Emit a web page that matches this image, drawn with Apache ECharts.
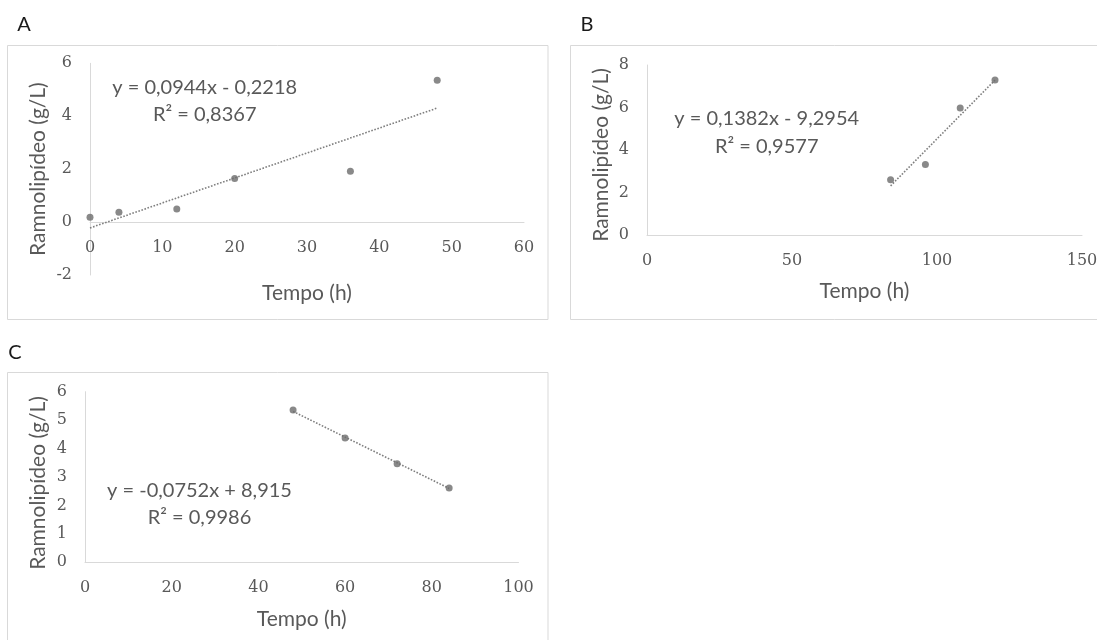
<!DOCTYPE html>
<html>
<head>
<meta charset="utf-8">
<script src="https://cdn.jsdelivr.net/npm/echarts@6/dist/echarts.min.js"></script>
<style>
  html, body { margin: 0; padding: 0; background: #ffffff; }
  #chart { width: 1097px; height: 640px; }
</style>
</head>
<body>
<div id="chart"></div>
<script>
// Panel A: production during 0–48 h
const hoursA = [0, 4, 12, 20, 36, 48];
const rhamnoA = [0.18, 0.37, 0.49, 1.65, 1.92, 5.36];
// Panel B: 84–120 h
const hoursB = [84, 96, 108, 120];
const rhamnoB = [2.6, 3.32, 5.98, 7.3];
// Panel C: 48–84 h
const hoursC = [48, 60, 72, 84];
const rhamnoC = [5.36, 4.37, 3.47, 2.61];

// Linear fits for A, B, C
const fitSlopes = [0.0944, 0.1382, -0.0752];
const fitIntercepts = [-0.2218, -9.2954, 8.915];
const fitR2 = [0.8367, 0.9577, 0.9986];

// Axis ranges: [min, max, interval]
const xTicksA = [0, 60, 10];  const yTicksA = [-2, 6, 2];
const xTicksB = [0, 150, 50]; const yTicksB = [0, 8, 2];
const xTicksC = [0, 100, 20]; const yTicksC = [0, 6, 1];

const panelLetters = ['A', 'B', 'C'];
const xTitle = 'Tempo (h)';
const yTitle = 'Ramnolipídeo (g/L)';

const TEXT = '#595959';
const AXIS = '#d9d9d9';
const DOT = '#6b6b6b';
const SANS = 'Lato, "Open Sans", sans-serif';
const SERIF = '"DejaVu Serif", "Liberation Serif", serif';

const panels = [
  { x: hoursA, y: rhamnoA, xt: xTicksA, yt: yTicksA,
    grid: { left: 90, top: 63.3, width: 434, height: 211.7 },
    xGap: 61, yGap: 41, yShift: 0, eq: [204.7, 87.3, 115], letter: [24, 25],
    box: [7.5, 45.5, 540.5, 274] },
  { x: hoursB, y: rhamnoB, xt: xTicksB, yt: yTicksB,
    grid: { left: 647, top: 65, width: 435, height: 170 },
    xGap: 46, yGap: 35, yShift: 10, eq: [766.7, 119, 146.7], letter: [587, 25],
    box: [570.5, 45.5, 540, 274] },
  { x: hoursC, y: rhamnoC, xt: xTicksC, yt: yTicksC,
    grid: { left: 85, top: 391.7, width: 433.5, height: 170.6 },
    xGap: 46, yGap: 36, yShift: 12, eq: [199.5, 490.7, 517.3], letter: [15, 353],
    box: [7.5, 372.5, 540.5, 300] }
];

function fmt(v) {
  return String(Math.abs(v)).replace('.', ',');
}
function equationText(i) {
  const s = fitSlopes[i], b = fitIntercepts[i];
  return 'y = ' + (s < 0 ? '-' : '') + fmt(s) + 'x ' + (b < 0 ? '- ' : '+ ') + fmt(b);
}

const grids = [], xAxes = [], yAxes = [], series = [], graphics = [];

panels.forEach(function (p, i) {
  grids.push(Object.assign({ outerBoundsMode: 'none', containLabel: false }, p.grid));

  // The horizontal axis (line, labels and title) sits where y = 0
  const zeroLift = (0 - p.yt[0]) / (p.yt[1] - p.yt[0]) * p.grid.height;

  xAxes.push({
    type: 'value', gridIndex: i, min: p.xt[0], max: p.xt[1], interval: p.xt[2],
    position: 'bottom', offset: -zeroLift,
    name: xTitle, nameLocation: 'middle', nameGap: p.xGap,
    nameTextStyle: { fontFamily: SANS, fontSize: 21, color: TEXT },
    axisLine: { show: true, onZero: false, lineStyle: { color: AXIS, width: 1 } },
    axisTick: { show: false },
    splitLine: { show: false },
    axisLabel: { fontFamily: SERIF, fontSize: 16, color: TEXT, margin: 18 }
  });

  yAxes.push({
    type: 'value', gridIndex: i, min: p.yt[0], max: p.yt[1], interval: p.yt[2],
    name: yTitle, nameLocation: 'middle', nameGap: p.yGap,
    nameTextStyle: { fontFamily: SANS, fontSize: 21, color: TEXT, padding: [0, p.yShift, 0, 0] },
    axisLine: { show: true, onZero: false, lineStyle: { color: AXIS, width: 1 } },
    axisTick: { show: false },
    splitLine: { show: false },
    axisLabel: { fontFamily: SERIF, fontSize: 16, color: TEXT, margin: 18 }
  });

  // Trendline over the span of the measured hours
  const x0 = Math.min.apply(null, p.x), x1 = Math.max.apply(null, p.x);
  series.push({
    type: 'line', xAxisIndex: i, yAxisIndex: i, silent: true, z: 2,
    showSymbol: false, symbol: 'none',
    data: [[x0, fitSlopes[i] * x0 + fitIntercepts[i]], [x1, fitSlopes[i] * x1 + fitIntercepts[i]]],
    lineStyle: { color: '#7f7f7f', width: 1.6, type: [1.6, 1.6] }
  });

  series.push({
    type: 'scatter', xAxisIndex: i, yAxisIndex: i, z: 3,
    symbol: 'circle', symbolSize: 7,
    itemStyle: { color: DOT },
    data: p.x.map(function (h, k) { return [h, p.y[k]]; })
  });

  // Chart-area frame
  graphics.push({
    type: 'rect', silent: true, z: -1,
    shape: { x: p.box[0], y: p.box[1], width: p.box[2], height: p.box[3] },
    style: { fill: 'none', stroke: AXIS, lineWidth: 1 }
  });

  // Panel letter
  graphics.push({
    type: 'text', silent: true, x: p.letter[0], y: p.letter[1],
    style: { text: panelLetters[i], fontFamily: SANS, fontSize: 20, fill: '#1a1a1a',
             align: 'center', verticalAlign: 'middle' }
  });

  // Fit equation and R²
  graphics.push({
    type: 'text', silent: true, x: p.eq[0], y: p.eq[1],
    style: { text: equationText(i), fontFamily: SANS, fontSize: 20, fill: TEXT,
             align: 'center', verticalAlign: 'middle' }
  });
  graphics.push({
    type: 'text', silent: true, x: p.eq[0], y: p.eq[2],
    style: { text: 'R² = ' + fmt(fitR2[i]), fontFamily: SANS, fontSize: 20, fill: TEXT,
             align: 'center', verticalAlign: 'middle' }
  });
});

const chart = echarts.init(document.getElementById('chart'), null, { renderer: 'canvas' });
chart.setOption({
  backgroundColor: '#ffffff',
  animation: false,
  grid: grids,
  xAxis: xAxes,
  yAxis: yAxes,
  series: series,
  graphic: graphics
});
</script>
</body>
</html>
